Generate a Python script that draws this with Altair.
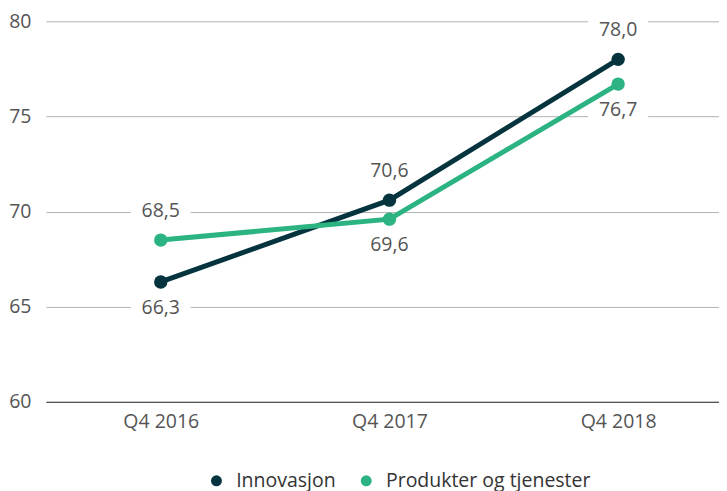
import altair as alt
import pandas as pd

quarters = ["Q4 2016", "Q4 2017", "Q4 2018"]
series = ["Innovasjon", "Produkter og tjenester"]
innovasjon = [66.3, 70.6, 78.0]
produkter = [68.5, 69.6, 76.7]
colors = ["#05343f", "#2bb482"]
y_ticks = [60, 65, 70, 75, 80]

rows = []
for i, q in enumerate(quarters):
    a, b = innovasjon[i], produkter[i]
    rows.append(dict(quarter=q, idx=i, series=series[0], value=a, above=a > b))
    rows.append(dict(quarter=q, idx=i, series=series[1], value=b, above=b > a))
df = pd.DataFrame(rows)
df["label"] = df["value"].map(lambda v: f"{v:.1f}".replace(".", ","))

FONT = "Open Sans"
TXT = "#555555"
FS = 19.5

label_expr = "[" + ",".join(f"'{q}'" for q in quarters) + "][datum.value]"

x = alt.X(
    "idx:Q",
    scale=alt.Scale(domain=[-0.502, 2.441], nice=False, zero=False),
    axis=alt.Axis(title=None, values=list(range(len(quarters))), labelExpr=label_expr,
                  ticks=False, domain=True, domainColor="#333333", domainWidth=1,
                  grid=False, labelFontSize=FS, labelColor=TXT, labelPadding=11,
                  labelFont=FONT, labelFlush=False),
)
y = alt.Y(
    "value:Q",
    scale=alt.Scale(domain=[60, 80], nice=False, zero=False),
    axis=alt.Axis(values=y_ticks, title=None, ticks=False, domain=False, grid=True,
                  gridColor="#b3b3b3", gridWidth=1, labelFontSize=FS, labelColor=TXT,
                  labelPadding=15, labelFont=FONT),
)
leg = alt.Legend(
    title=None, orient="none", legendX=161, legendY=450, direction="horizontal",
    symbolType="circle", symbolSize=120, labelFontSize=FS, labelColor="#333333",
    labelFont=FONT, columnPadding=20, labelOffset=10, symbolStrokeWidth=0,
    symbolOpacity=1, padding=0,
)
color = alt.Color("series:N", scale=alt.Scale(domain=series, range=colors), legend=leg)

base = alt.Chart(df)

OFF_UP = -29
OFF_DN = 26
box_shape = "M-1,-0.36L1,-0.36L1,0.36L-1,0.36Z"

box_up = base.transform_filter("datum.above").mark_point(
    shape=box_shape, filled=True, fill="white", size=3600, opacity=1, strokeWidth=0, yOffset=OFF_UP
).encode(x=x, y=y)
box_dn = base.transform_filter("!datum.above").mark_point(
    shape=box_shape, filled=True, fill="white", size=3600, opacity=1, strokeWidth=0, yOffset=OFF_DN
).encode(x=x, y=y)

lines = base.mark_line(strokeWidth=5).encode(x=x, y=y, color=color)
points = base.mark_point(filled=True, size=180, opacity=1).encode(x=x, y=y, color=color)
text_up = base.transform_filter("datum.above").mark_text(
    dy=OFF_UP, fontSize=FS, font=FONT, color=TXT, baseline="middle"
).encode(x=x, y=y, text="label:N")
text_dn = base.transform_filter("!datum.above").mark_text(
    dy=OFF_DN, fontSize=FS, font=FONT, color=TXT, baseline="middle"
).encode(x=x, y=y, text="label:N")

chart = alt.layer(box_up, box_dn, lines, points, text_up, text_dn).properties(
    width=674, height=381,
    padding={"left": 0, "top": 3, "right": 0, "bottom": 0},
).configure_view(strokeWidth=0).configure_legend(labelLimit=400)

chart.save("out.html", embed_options={"renderer": "svg", "actions": False})
